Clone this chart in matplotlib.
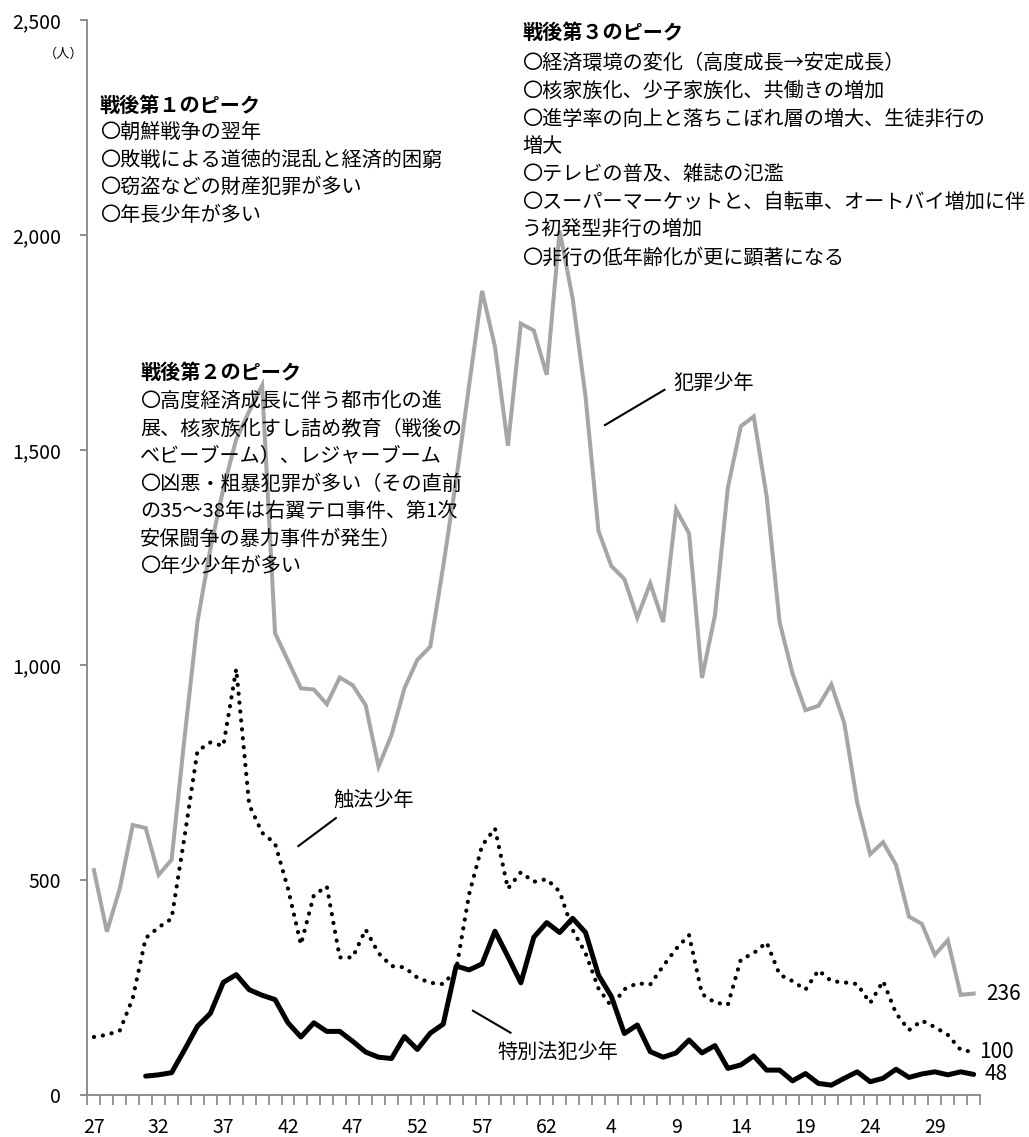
import numpy as np
import matplotlib.pyplot as plt
from matplotlib.ticker import FixedLocator, FuncFormatter, NullFormatter

plt.rcParams['font.family'] = ['Noto Sans CJK JP', 'DejaVu Sans']

# 昭和27年(1952) - 令和2年(2020)
YEAR_TICKS = ['27', '32', '37', '42', '47', '52', '57', '62', '4', '9', '14', '19', '24', '29']

crime = [523, 380, 480, 628, 621, 512, 547, 830, 1100, 1270,
         1410, 1525, 1590, 1650, 1074, 1010, 946, 943, 909, 971,
         953, 907, 764, 837, 946, 1012, 1043, 1230, 1430, 1650,
         1870, 1740, 1510, 1794, 1778, 1675, 2010, 1853, 1624, 1312,
         1230, 1200, 1110, 1190, 1100, 1362, 1306, 970, 1115, 1412,
         1555, 1578, 1392, 1100, 980, 895, 905, 955, 865, 680,
         560, 588, 535, 415, 398, 326, 360, 233, 236]

shokuho = [135, 140, 150, 225, 365, 390, 410, 600, 800, 820,
           812, 991, 675, 610, 585, 480, 350, 465, 485, 320,
           320, 385, 330, 300, 297, 273, 261, 258, 291, 467,
           580, 620, 480, 518, 496, 502, 473, 384, 330, 248,
           206, 246, 260, 257, 300, 340, 372, 235, 215, 210,
           315, 330, 355, 280, 265, 245, 290, 265, 262, 258,
           214, 265, 190, 151, 173, 158, 140, 105, 100]

tokubetsu = [np.nan, np.nan, np.nan, np.nan, 44, 47, 52, 105, 160, 190,
             262, 280, 245, 232, 222, 168, 135, 168, 148, 148,
             125, 100, 88, 85, 136, 106, 144, 165, 300, 291,
             305, 381, 322, 261, 367, 401, 378, 411, 378, 279,
             229, 143, 163, 101, 88, 98, 128, 98, 115, 62,
             70, 91, 58, 58, 33, 50, 27, 23, 39, 54,
             31, 39, 60, 41, 49, 54, 47, 54, 48]

PEAK1 = ['戦後第１のピーク',
         '〇朝鮮戦争の翌年',
         '〇敗戦による道徳的混乱と経済的困窮',
         '〇窃盗などの財産犯罪が多い',
         '〇年長少年が多い']
PEAK2 = ['戦後第２のピーク',
         '〇高度経済成長に伴う都市化の進',
         '展、核家族化すし詰め教育（戦後の',
         'ベビーブーム）、レジャーブーム',
         '〇凶悪・粗暴犯罪が多い（その直前',
         'の35～38年は右翼テロ事件、第1次',
         '安保闘争の暴力事件が発生）',
         '〇年少少年が多い']
PEAK3 = ['戦後第３のピーク',
         '〇経済環境の変化（高度成長→安定成長）',
         '〇核家族化、少子家族化、共働きの増加',
         '〇進学率の向上と落ちこぼれ層の増大、生徒非行の',
         '増大',
         '〇テレビの普及、雑誌の氾濫',
         '〇スーパーマーケットと、自転車、オートバイ増加に伴',
         'う初発型非行の増加',
         '〇非行の低年齢化が更に顕著になる']

GRAY = '#A6A6A6'
AXIS = '#8C8C8C'
FS = 14.5

x = np.arange(len(crime))

fig = plt.figure(figsize=(10.29, 11.37), dpi=100)
ax = fig.add_axes([0.085, 0.0369, 0.8675, 0.9455])

ax.plot(x, crime, color=GRAY, lw=2.9, solid_joinstyle='miter', zorder=3)
ax.plot(x, shokuho, color='black', lw=3.0, linestyle=(0, (0.05, 2.1)),
        dash_capstyle='round', zorder=4)
ax.plot(x, tokubetsu, color='black', lw=3.6, solid_capstyle='round', zorder=5)

ax.set_xlim(-0.5, len(crime) - 0.5)
ax.set_ylim(0, 2500)

for s in ['top', 'right']:
    ax.spines[s].set_visible(False)
for s in ['left', 'bottom']:
    ax.spines[s].set_color(AXIS)
    ax.spines[s].set_linewidth(1.4)

ax.set_yticks(np.arange(0, 2501, 500))
ax.yaxis.set_major_formatter(FuncFormatter(lambda v, p: f'{int(v):,}'))
ax.tick_params(axis='y', length=5, width=1.4, color=AXIS, pad=14, labelsize=14)

ax.xaxis.set_major_locator(FixedLocator(np.arange(0, len(crime), 5)))
ax.set_xticklabels(YEAR_TICKS)
ax.xaxis.set_minor_locator(FixedLocator(np.arange(-0.5, len(crime), 1)))
ax.xaxis.set_minor_formatter(NullFormatter())
ax.tick_params(axis='x', which='major', length=0, pad=16, labelsize=14)
ax.tick_params(axis='x', which='minor', length=7, width=1.3, color=AXIS)

fig.text(0.081, 0.952, '（人）', fontsize=9.5, ha='right', va='center')


def block(lines, x0, y0, step, first_gap):
    ax.text(x0, y0, lines[0], fontsize=FS, fontweight='bold', va='center', ha='left')
    y = y0 - first_gap
    for line in lines[1:]:
        ax.text(x0, y, line, fontsize=FS, va='center', ha='left')
        y -= step


block(PEAK1, 0.46, 2302, 64, 64)
block(PEAK2, 3.56, 1681, 64, 68)
block(PEAK3, 33.1, 2472, 65, 72)

# series labels with leader lines
ax.text(44.8, 1656, '犯罪少年', fontsize=FS, va='center', ha='left')
ax.plot([39.5, 44.1], [1558, 1640], color='black', lw=1.5)
ax.text(18.5, 686, '触法少年', fontsize=FS, va='center', ha='left')
ax.plot([15.8, 18.7], [579, 644], color='black', lw=1.5)
ax.text(31.2, 100, '特別法犯少年', fontsize=FS, va='center', ha='left')
ax.plot([29.3, 32.2], [196, 145], color='black', lw=1.5)

last = len(crime) - 1
for series, dx in [(crime, 9), (shokuho, 4), (tokubetsu, 8)]:
    ax.annotate(f'{series[last]}', (last, series[last]), xytext=(dx, 0),
                textcoords='offset points', fontsize=15, va='center', ha='left')

fig.savefig('out.png', dpi=100, facecolor='white')
